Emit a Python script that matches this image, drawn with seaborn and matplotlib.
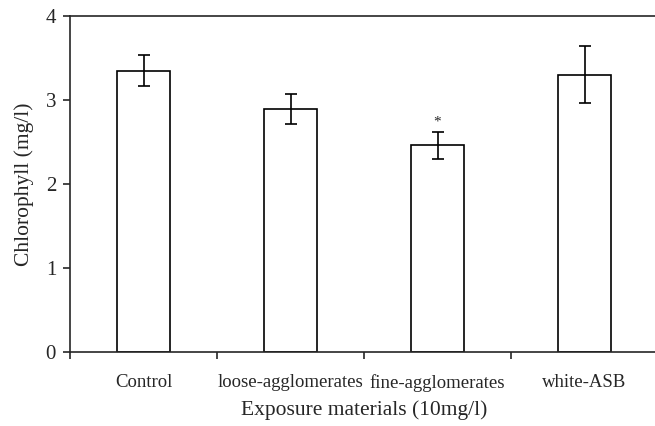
import matplotlib
matplotlib.use('Agg')
import matplotlib.pyplot as plt
import numpy as np
import pandas as pd
import seaborn as sns

# Values
materials = ['Control', 'loose-agglomerates', 'fine-agglomerates', 'white-ASB']
chlorophyll = [3.35, 2.89, 2.46, 3.30]
errors = [0.18, 0.18, 0.16, 0.34]
significant = [False, False, True, False]

df = pd.DataFrame({'Material': materials, 'Chlorophyll': chlorophyll, 'Err': errors})

sns.set_style('ticks')
plt.rcParams['font.family'] = ['Liberation Serif', 'DejaVu Serif']

fig = plt.figure(figsize=(6.55, 4.26), dpi=100)
ax = fig.add_axes([70 / 655, 74 / 426, 588 / 655, 336 / 426])

sns.barplot(data=df, x='Material', y='Chlorophyll', color='white', edgecolor='black',
            linewidth=1.2, width=0.36, errorbar=None, ax=ax)
ax.errorbar(x=np.arange(len(materials)), y=df['Chlorophyll'], yerr=df['Err'],
            fmt='none', ecolor='black', elinewidth=1.2, capsize=4, capthick=1.2)

# Significance marker
for i, (v, e, s) in enumerate(zip(chlorophyll, errors, significant)):
    if s:
        ax.text(i, v + e + 0.04, '*', ha='center', va='bottom', fontsize=11)

ax.set_xlim(-0.5, 3.5)
ax.set_ylim(0, 4)
ax.set_yticks([0, 1, 2, 3, 4])
ax.tick_params(axis='y', labelsize=15, length=5, width=1.2, direction='out', pad=5)
ax.tick_params(axis='x', which='major', length=0, labelsize=13.5, pad=16)
ax.set_xticks(np.arange(-0.5, 3.0, 1.0), minor=True)
ax.tick_params(axis='x', which='minor', length=5, width=1.2, direction='out')

ax.spines['right'].set_visible(False)
for sp in ['left', 'bottom', 'top']:
    ax.spines[sp].set_linewidth(1.2)

ax.set_xlabel('Exposure materials (10mg/l)', fontsize=15.5, labelpad=6)
ax.set_ylabel('Chlorophyll (mg/l)', fontsize=15.5, labelpad=8)

fig.savefig('out.png', dpi=100)
